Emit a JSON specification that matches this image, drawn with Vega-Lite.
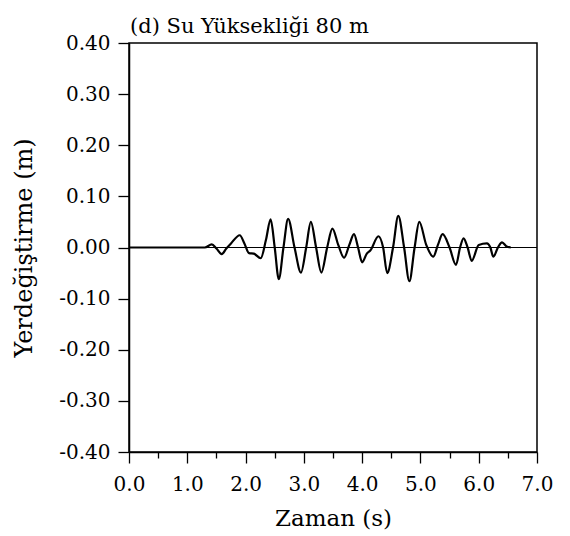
{
  "$schema": "https://vega.github.io/schema/vega-lite/v6.json",
  "width": 408,
  "height": 409,
  "autosize": "none",
  "padding": {"left": 129, "top": 43, "right": 33, "bottom": 84},
  "background": "white",
  "config": {
    "font": "DejaVu Serif",
    "view": {"stroke": "black", "strokeWidth": 1.5},
    "axis": {
      "domainColor": "black", "domainWidth": 1.5,
      "tickColor": "black", "tickWidth": 1.3,
      "labelFont": "DejaVu Serif", "labelFontSize": 20, "labelColor": "black",
      "titleFont": "DejaVu Serif", "titleFontWeight": "normal", "titleColor": "black",
      "grid": false
    }
  },
  "title": {
    "text": "(d) Su Yüksekliği 80 m",
    "font": "DejaVu Serif", "fontSize": 21, "fontWeight": "normal", "color": "black",
    "anchor": "start", "frame": "group", "dx": 1, "dy": 33, "offset": 8, "baseline": "bottom"
  },
  "data": {"values": [
    {"t": 0.0, "y": 0.0}, {"t": 0.6, "y": 0.0}, {"t": 1.0, "y": 0.0},
    {"t": 1.3, "y": 0.0}, {"t": 1.42, "y": 0.006}, {"t": 1.5, "y": -0.002},
    {"t": 1.59, "y": -0.013}, {"t": 1.67, "y": -0.002}, {"t": 1.75, "y": 0.008},
    {"t": 1.9, "y": 0.024}, {"t": 1.98, "y": 0.008}, {"t": 2.06, "y": -0.011},
    {"t": 2.14, "y": -0.012}, {"t": 2.26, "y": -0.021}, {"t": 2.35, "y": 0.015},
    {"t": 2.43, "y": 0.055}, {"t": 2.5, "y": 0.0}, {"t": 2.57, "y": -0.062},
    {"t": 2.65, "y": 0.0}, {"t": 2.73, "y": 0.056}, {"t": 2.84, "y": 0.0},
    {"t": 2.95, "y": -0.049}, {"t": 3.04, "y": 0.0}, {"t": 3.12, "y": 0.05},
    {"t": 3.21, "y": 0.0}, {"t": 3.3, "y": -0.049}, {"t": 3.4, "y": 0.0},
    {"t": 3.49, "y": 0.037}, {"t": 3.59, "y": 0.005}, {"t": 3.69, "y": -0.02},
    {"t": 3.78, "y": 0.005}, {"t": 3.86, "y": 0.026}, {"t": 3.93, "y": 0.0},
    {"t": 4.0, "y": -0.029}, {"t": 4.08, "y": -0.012}, {"t": 4.14, "y": -0.006},
    {"t": 4.28, "y": 0.022}, {"t": 4.36, "y": 0.0}, {"t": 4.43, "y": -0.05},
    {"t": 4.53, "y": 0.0}, {"t": 4.62, "y": 0.062}, {"t": 4.72, "y": 0.0},
    {"t": 4.81, "y": -0.066}, {"t": 4.9, "y": 0.0}, {"t": 4.98, "y": 0.05},
    {"t": 5.1, "y": 0.005}, {"t": 5.22, "y": -0.018}, {"t": 5.3, "y": 0.005},
    {"t": 5.38, "y": 0.026}, {"t": 5.5, "y": 0.0}, {"t": 5.61, "y": -0.034},
    {"t": 5.68, "y": 0.0}, {"t": 5.74, "y": 0.018}, {"t": 5.81, "y": 0.0},
    {"t": 5.88, "y": -0.026}, {"t": 6.0, "y": 0.005}, {"t": 6.14, "y": 0.008},
    {"t": 6.2, "y": 0.0}, {"t": 6.25, "y": -0.018}, {"t": 6.33, "y": 0.0},
    {"t": 6.4, "y": 0.01}, {"t": 6.48, "y": 0.002}, {"t": 6.55, "y": 0.0}
  ]},
  "layer": [
    {
      "mark": {"type": "rule", "color": "black", "strokeWidth": 1.0},
      "encoding": {"y": {"datum": 0, "type": "quantitative"}}
    },
    {
      "mark": {"type": "line", "color": "black", "strokeWidth": 2.2, "interpolate": "monotone"},
      "encoding": {
        "x": {
          "field": "t", "type": "quantitative",
          "scale": {"domain": [0, 7], "nice": false, "zero": false},
          "axis": {
            "title": "Zaman (s)", "titleFontSize": 23, "titlePadding": 13,
            "values": [0, 0.5, 1, 1.5, 2, 2.5, 3, 3.5, 4, 4.5, 5, 5.5, 6, 6.5, 7],
            "labelExpr": "round(datum.value*10) % 10 == 0 ? format(datum.value, '.1f') : ''",
            "tickSize": {"condition": {"test": "round(datum.value*10) % 10 != 0", "value": 6}, "value": 11},
            "labelPadding": 11, "labelFlush": false, "labelOverlap": false
          }
        },
        "y": {
          "field": "y", "type": "quantitative",
          "scale": {"domain": [-0.4, 0.4], "nice": false, "zero": false},
          "axis": {
            "title": "Yerdeğiştirme (m)", "titleFontSize": 24, "titlePadding": 22,
            "values": [-0.4, -0.35, -0.3, -0.25, -0.2, -0.15, -0.1, -0.05, 0, 0.05, 0.1, 0.15, 0.2, 0.25, 0.3, 0.35, 0.4],
            "labelExpr": "abs(round(datum.value*100)) % 10 == 0 ? replace(format(datum.value, '.2f'), '\u2212', '-') : ''",
            "tickSize": {"condition": {"test": "abs(round(datum.value*100)) % 10 != 0", "value": 6}, "value": 11},
            "labelPadding": 8, "labelFlush": false, "labelOverlap": false
          }
        }
      }
    }
  ]
}
